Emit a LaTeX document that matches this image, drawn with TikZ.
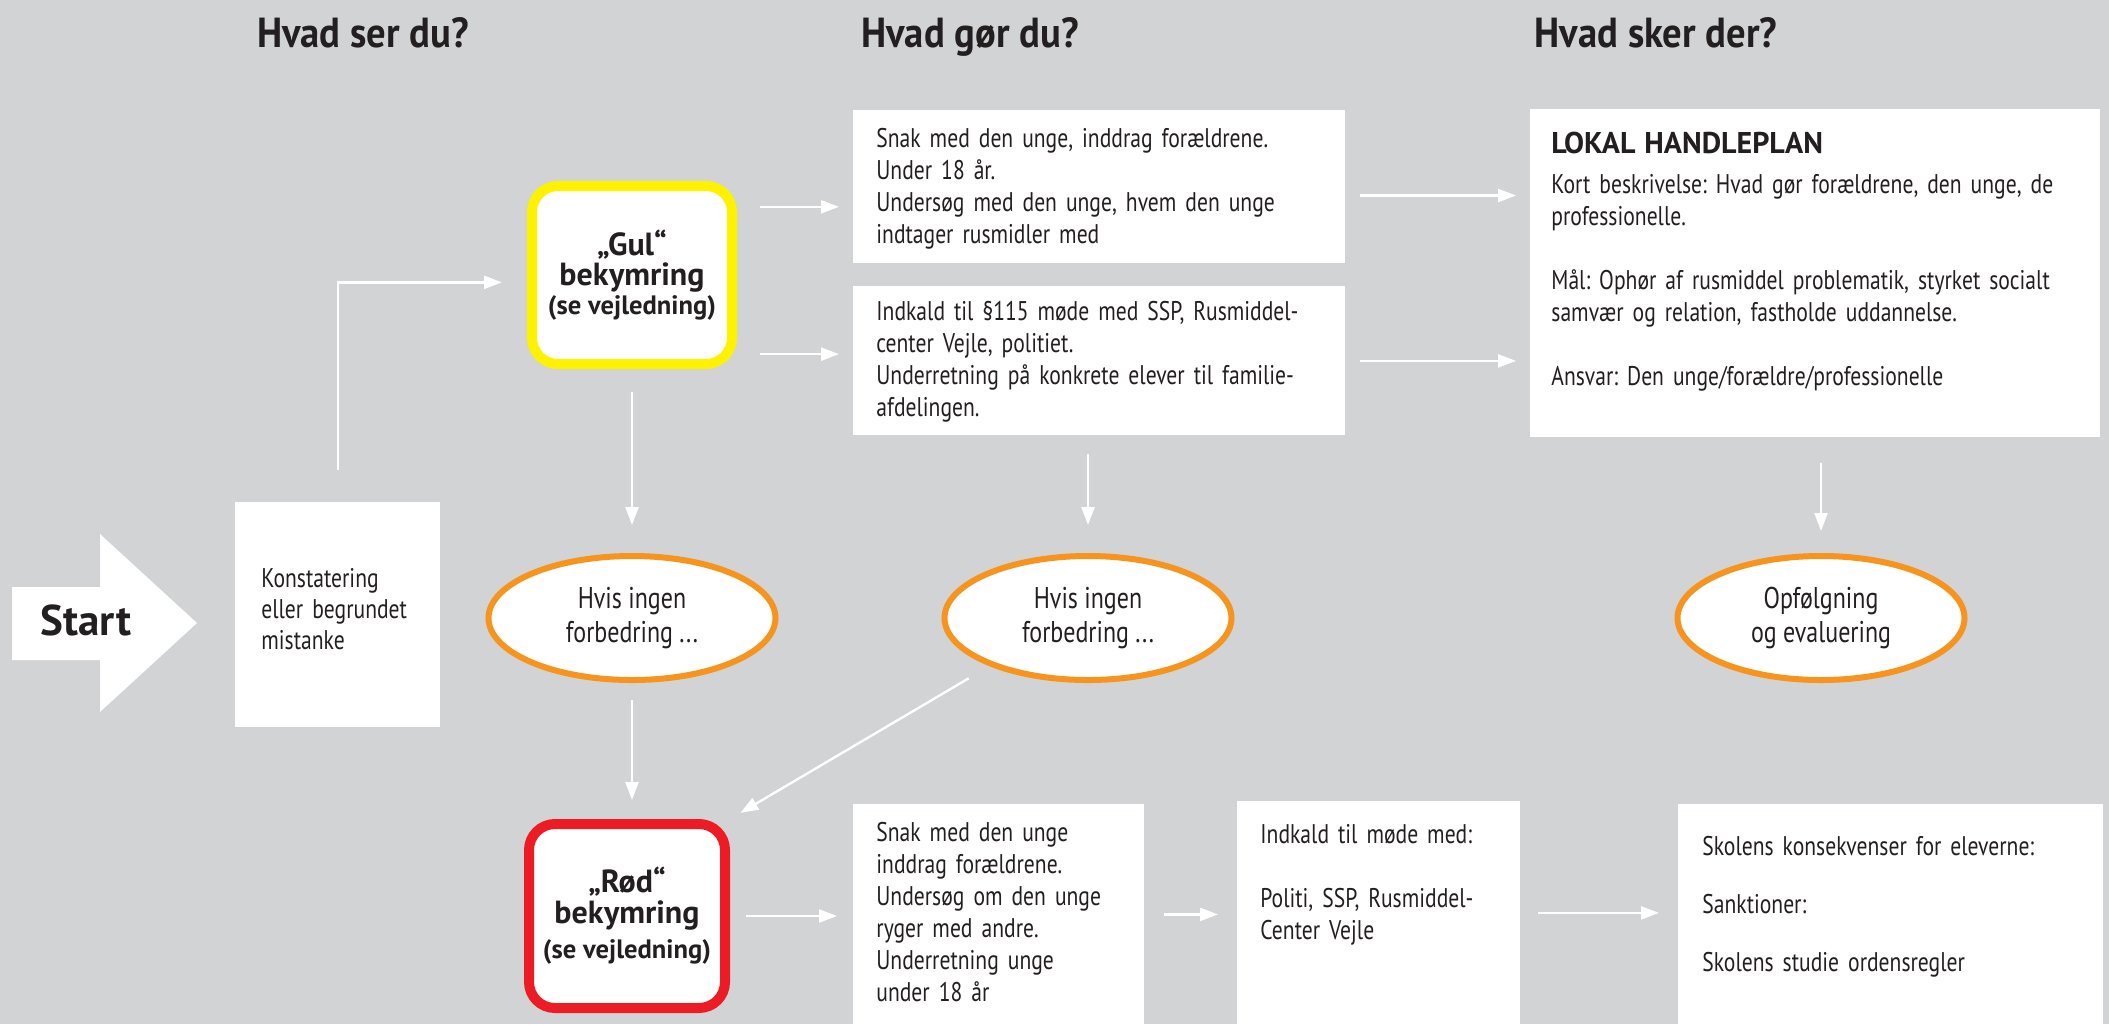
\documentclass[tikz,border=0pt]{standalone}
\usepackage{fontspec}
\setmainfont{PT Sans}[FakeStretch=0.8]
\newfontfamily\headfont{PT Sans}
\newfontfamily\titlefont{PT Sans}[FakeStretch=0.92]
\usetikzlibrary{positioning, arrows.meta, shapes.geometric}

\definecolor{bggray}{RGB}{209,211,212}
\definecolor{gulcol}{RGB}{255,242,0}
\definecolor{rodcol}{RGB}{237,28,36}
\definecolor{orangecol}{RGB}{247,148,29}
\definecolor{inkcol}{RGB}{35,31,32}

\begin{document}
\frenchspacing
\begin{tikzpicture}[
    x=0.5pt, y=-0.5pt,
    every node/.style={text=inkcol, font=\fontsize{13.5}{16}\selectfont},
    heading/.style={anchor=base, font=\titlefont\bfseries\fontsize{21}{24}\selectfont},
    box/.style={fill=white, anchor=north west, align=left, inner xsep=11.5pt, inner ysep=0pt},
    worry/.style={draw=#1, fill=white, line width=5pt, rounded corners=13pt,
        align=center, inner sep=0pt, minimum width=100pt, minimum height=90pt,
        font=\headfont\bfseries\fontsize{16}{15}\selectfont},
    oval/.style={ellipse, draw=orangecol, fill=white, line width=3pt,
        minimum width=143.5pt, minimum height=62pt, align=center,
        font=\fontsize{15}{17}\selectfont},
    flow/.style={draw=white, line width=1.2pt, -{Triangle[length=9pt, width=6.5pt]},
        shorten <=8pt, shorten >=8pt},
]

    % background and start arrow
    \fill[bggray] (0,0) rectangle (2109,1024);
    \fill[white] (12,587) -- (100,587) -- (100,534) -- (197,623)
        -- (100,712) -- (100,660) -- (12,660) -- cycle;
    \node[font=\headfont\bfseries\fontsize{21.5}{24}\selectfont] (start) at (86,620) {Start};

    % column headings
    \node[heading] (hser) at (363,47) {Hvad ser du?};
    \node[heading] (hgor) at (970,47) {Hvad gør du?};
    \node[heading] (hsker) at (1656,47) {Hvad sker der?};

    % boxes
    \node[box, text width=76.5pt, inner xsep=13pt, text height=42.5pt, text depth=70pt]
        (konst) at (235,502) {Konstatering\\[-0.5pt]eller begrundet\\[-0.5pt]mistanke};
    \node[worry=gulcol, minimum height=89pt] (gul) at (632,275)
        {„Gul“\\bekymring\\[-0.5pt]{\fontsize{13.3}{15}\selectfont (se vejledning)}};
    \node[worry=rodcol, minimum width=98pt, minimum height=92pt] (rod) at (627,916)
        {„Rød“\\[0.5pt]bekymring\\[2.5pt]{\fontsize{13.3}{15}\selectfont (se vejledning)}};

    \node[box, text width=223pt, text height=18.5pt, text depth=58pt] (snakA) at (853,110)
        {Snak med den unge, inddrag forældrene.\\Under 18 år.\\Undersøg med den unge, hvem den unge\\indtager rusmidler med};
    \node[box, text width=223pt, text height=17pt, text depth=57.5pt] (indkA) at (853,286)
        {Indkald til §115 møde med SSP, Rusmiddel-\\center Vejle, politiet.\\Underretning på konkrete elever til familie-\\afdelingen.};
    \node[box, text width=264pt, inner xsep=10.5pt, text height=22pt, text depth=142pt] (plan) at (1530,109)
        {{\headfont\bfseries\fontsize{15}{16}\selectfont LOKAL HANDLEPLAN}\\[4pt]Kort beskrivelse: Hvad gør forældrene, den unge, de\\professionelle.\\[16pt]Mål: Ophør af rusmiddel problematik, styrket socialt\\samvær og relation, fastholde uddannelse.\\[16pt]Ansvar: Den unge/forældre/professionelle};

    \node[oval] (e1) at (632,618) {Hvis ingen\\forbedring ...};
    \node[oval] (e2) at (1088,618) {Hvis ingen\\forbedring ...};
    \node[oval] (e3) at (1821,618) {Opfølgning\\og evaluering};

    \node[box, text width=122.5pt, text height=18.5pt, text depth=91.5pt] (snakB) at (853,804)
        {Snak med den unge\\inddrag forældrene.\\Undersøg om den unge\\ryger med andre.\\Underretning unge\\under 18 år};
    \node[box, text width=118.5pt, text height=21pt, text depth=90.5pt] (indkB) at (1237,801)
        {Indkald til møde med:\\[16pt]Politi, SSP, Rusmiddel-\\Center Vejle};
    \node[box, text width=188.5pt, inner xsep=12pt, text height=25.5pt, text depth=84.5pt] (skole) at (1678,804)
        {Skolens konsekvenser for eleverne:\\[13pt]Sanktioner:\\[13pt]Skolens studie ordensregler};

    % connectors
    \draw[flow, shorten <=0pt, shorten >=12.5pt] ([yshift=16pt]konst.north) |- (gul.184);
    \draw[flow, shorten <=11.5pt, shorten >=7pt] (gul.33) -- (gul.33 -| snakA.west);
    \draw[flow, shorten <=11.5pt, shorten >=7pt] (gul.-37) -- (gul.-37 -| indkA.west);
    \draw[flow, shorten <=7pt, shorten >=7pt] (snakA.-2) -- (snakA.-2 -| plan.west);
    \draw[flow, shorten <=7pt, shorten >=7pt] (indkA.east) -- (indkA.east -| plan.west);
    \draw[flow, shorten <=11.5pt, shorten >=14pt] (gul.south) -- (e1.north);
    \draw[flow, shorten <=9pt, shorten >=14pt] (e2.north |- indkA.south) -- (e2.north);
    \draw[flow, shorten <=12.5pt, shorten >=11pt] (e3.north |- plan.south) -- (e3.north);
    \draw[flow, shorten <=8.5pt, shorten >=9.5pt] (e1.south) -- (e1.south |- rod.north);
    \draw[flow, shorten <=12pt, shorten >=6pt] (e2.206) -- (rod.north east);
    \draw[flow] (rod.east) -- (rod.east -| snakB.west);
    \draw[flow, shorten <=9.5pt, shorten >=9.5pt] (snakB.east) -- (snakB.east -| indkB.west);
    \draw[flow, shorten <=8.5pt, shorten >=9.5pt] (indkB.east) -- (indkB.east -| skole.west);

\end{tikzpicture}
\end{document}
